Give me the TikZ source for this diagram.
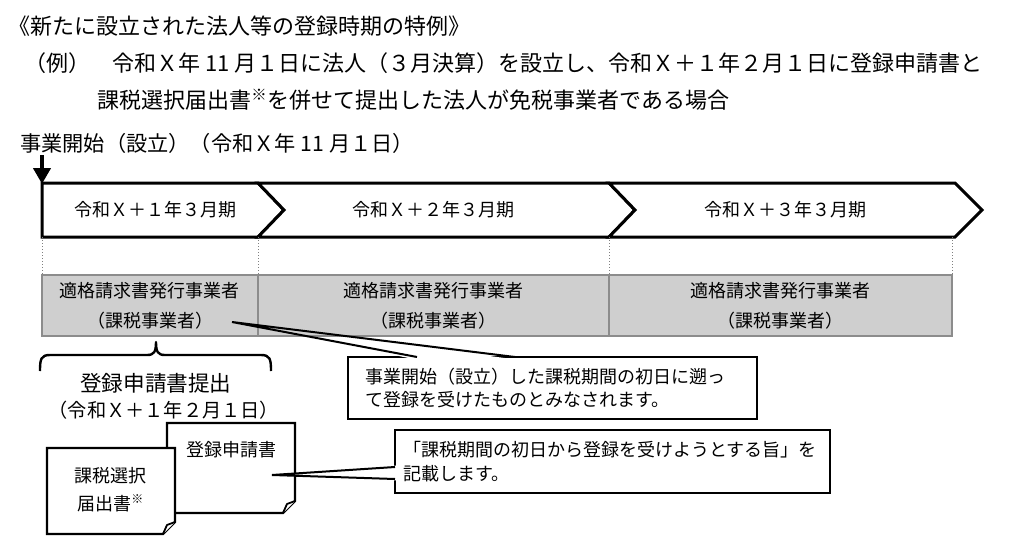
\documentclass[tikz,border=0pt]{standalone}
\usepackage{fontspec}
\setmainfont{Noto Sans CJK JP}
\usetikzlibrary{arrows.meta}

\begin{document}
\begin{tikzpicture}[x=0.5pt,y=-0.5pt,
headtext/.style={anchor=west, inner sep=0pt, font=\fontsize{11pt}{13pt}\selectfont},
periodtext/.style={inner sep=0pt, font=\fontsize{9pt}{11pt}\selectfont},
chevline/.style={draw=black, fill=white, line width=1.5pt, line join=miter},
graybox/.style={rectangle, draw=black!45, fill=black!19, line width=0.6pt, minimum height=30.5pt, inner sep=0pt, align=center, font=\fontsize{9pt}{15pt}\selectfont},
callbox/.style={rectangle, draw=black, fill=white, line width=1pt, align=left, font=\fontsize{9pt}{11.75pt}\selectfont},
docline/.style={draw=black, fill=white, line width=1.1pt, line join=miter},
doctext/.style={inner sep=0pt, align=center, font=\fontsize{9pt}{14pt}\selectfont},
]
\useasboundingbox (0,0) rectangle (1024,552);

%Heading
\node[headtext](title) at (8,26){《新たに設立された法人等の登録時期の特例》};
\node[headtext](ex1) at (24,63){（例）　令和Ｘ年 11 月１日に法人（３月決算）を設立し、令和Ｘ＋１年２月１日に登録申請書と};
\node[headtext](ex2) at (97,100){課税選択届出書\textsuperscript{※}を併せて提出した法人が免税事業者である場合};
\node[headtext, font=\fontsize{10.6pt}{12pt}\selectfont](start) at (20,143){事業開始（設立）（令和Ｘ年 11 月１日）};

%Periods
\path[chevline] (42,183) -- (258,183) -- (284,210) -- (258,237) -- (42,237) -- cycle;
\path[chevline] (258,183) -- (609,183) -- (635,210) -- (609,237) -- (258,237) -- (284,210) -- cycle;
\path[chevline] (609,183) -- (955,183) -- (982,210) -- (955,237) -- (609,237) -- (635,210) -- cycle;
\node[periodtext](p1) at (156,210){令和Ｘ＋１年３月期};
\node[periodtext](p2) at (433,210){令和Ｘ＋２年３月期};
\node[periodtext](p3) at (785,210){令和Ｘ＋３年３月期};

\coordinate (arrtop) at (42,155);
\coordinate (arrbot) at (42,184);
\draw[line width=2.2pt, -{Triangle[width=8.5pt,length=8pt]}] (arrtop) -- (arrbot);

\foreach \xx in {42,258,609,952}
  \draw[black!50, densely dotted, line width=0.5pt] (\xx,237) -- (\xx,275);

%Status boxes
\node[graybox, minimum width=108pt](gb1) at (150,305.5){適格請求書発行事業者\\（課税事業者）};
\node[graybox, minimum width=175.5pt](gb2) at (433.5,305.5){適格請求書発行事業者\\（課税事業者）};
\node[graybox, minimum width=171.5pt](gb3) at (780.5,305.5){適格請求書発行事業者\\（課税事業者）};

%Brace
\draw[line width=1.2pt, line join=round] (40,371) .. controls (40,359) and (41,355) .. (50,355)
  -- (147,355) .. controls (154,355) and (156,352) .. (156,342)
  .. controls (156,352) and (158,355) .. (165,355)
  -- (261,355) .. controls (270,355) and (271,359) .. (271,371);
\node[inner sep=0pt, font=\fontsize{10.8pt}{12pt}\selectfont](sub) at (156,383){登録申請書提出};
\node[inner sep=0pt, font=\fontsize{9.6pt}{12pt}\selectfont](subdate) at (164,410){（令和Ｘ＋１年２月１日）};

%Documents
\path[docline] (167,423) -- (295,423) -- (295,501) -- (283,513) -- (167,513) -- cycle;
\filldraw[line width=0.9pt, fill=white, line join=round] (295,501) -- (287,504) -- (283,513);
\node[doctext](app) at (231,450){登録申請書};
\path[docline] (47,448) -- (175,448) -- (175,522) -- (163,534) -- (47,534) -- cycle;
\filldraw[line width=0.9pt, fill=white, line join=round] (175,522) -- (167,525) -- (163,534);
\node[doctext](elect) at (111,490){課税選択\\届出書\textsuperscript{※}};

%Callouts
\node[callbox, minimum width=204.5pt, minimum height=31pt, text width=187.5pt, inner xsep=8.5pt](c1) at (552.5,388){事業開始（設立）した課税期間の初日に遡っ\\て登録を受けたものとみなされます。};
\node[callbox, minimum width=217.5pt, minimum height=31.5pt, text width=209pt, inner xsep=4.25pt, font=\fontsize{9pt}{12pt}\selectfont](c2) at (612.5,461.5){「課税期間の初日から登録を受けようとする旨」を\\記載します。};

%Lines
\coordinate (tip1) at (232,322);
\begin{scope}
\clip (0,337) rectangle (1024,420);
\fill[white] (416,359.5) -- (tip1) -- (516,359.5) -- cycle;
\end{scope}
\draw[line width=1pt, line join=miter] (417,357) -- (tip1) -- (515,357);

\coordinate (tip2) at (272,475);
\fill[white] (397.5,465.5) -- (tip2) -- (397.5,480.5) -- cycle;
\draw[line width=1pt, line join=miter] (395,467) -- (tip2) -- (395,479);

\end{tikzpicture}
\end{document}
